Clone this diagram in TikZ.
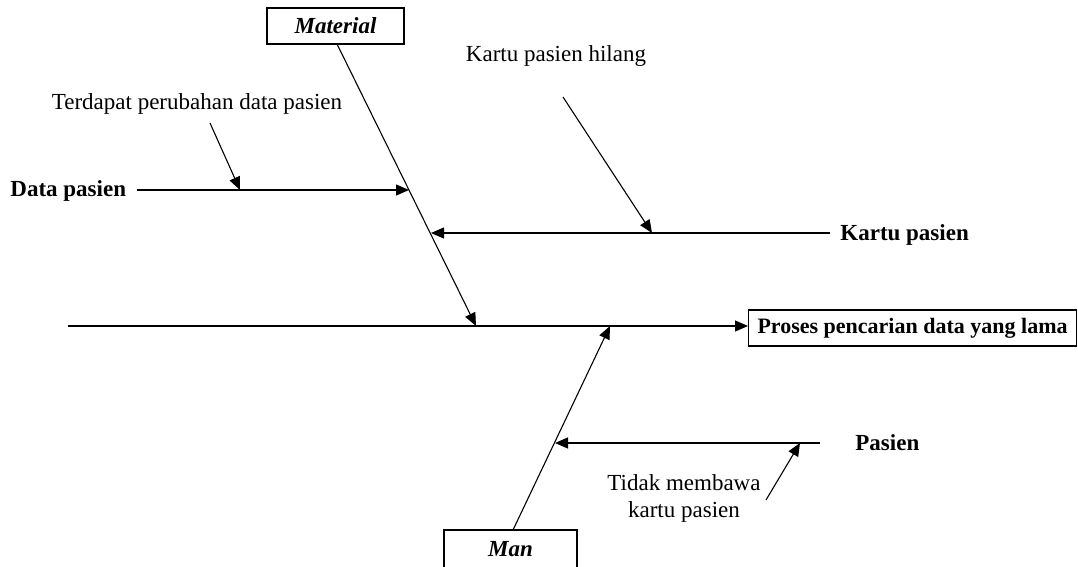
\documentclass[tikz,border=0pt]{standalone}
\usepackage{fontspec}
\setmainfont{Liberation Serif}
\usetikzlibrary{arrows.meta}
\begin{document}
\begin{tikzpicture}[x=0.5pt,y=-0.5pt,
  every node/.style={font=\fontsize{11.5pt}{13.5pt}\selectfont, inner sep=0pt},
  line/.style={line width=0.55pt, draw=black},
  arr/.style={line, -{Triangle[length=6.5pt,width=5.5pt]}},
  boxed/.style={draw, line width=0.55pt, minimum height=18pt},
  lbl/.style={font=\fontsize{11.5pt}{13.5pt}\selectfont\bfseries},
  cat/.style={font=\fontsize{11.5pt}{13.5pt}\selectfont\bfseries\itshape}]
\useasboundingbox (0,0) rectangle (1078,567);
\clip (0,0) rectangle (1078,567);
% effect
\node[boxed, font=\fontsize{11pt}{13.5pt}\selectfont\bfseries, inner xsep=4.5pt, anchor=west] (effect) at (748,328) {Proses pencarian data yang lama};
\coordinate (tail) at (68,326);
\draw[arr] (tail) -- (tail -| effect.west);
% category boxes
\node[cat, boxed, minimum width=68.5pt] (mat) at (335.5,26) {Material};
\node[cat] (man) at (510.5,549) {Man};
\draw[line width=0.55pt] (444,530) rectangle (577,600);
% bones
\coordinate (matTop) at (337,44);
\coordinate (matEnd) at (476,326);
\draw[arr] (matTop) -- (matEnd);
\coordinate (manBot) at (513,530);
\coordinate (manEnd) at (610,326);
\draw[arr] (manBot) -- (manEnd);
% Data pasien
\node[lbl, anchor=west] (dp) at (10,191) {Data pasien};
\coordinate (dpEnd) at (409,190);
\draw[arr] (137,190) -- (dpEnd);
\node (tp) at (197,104) {Terdapat perubahan data pasien};
\coordinate (tpS) at (210,123);
\coordinate (tpE) at (240,190);
\draw[arr] (tpS) -- (tpE);
% Kartu pasien
\node[lbl, anchor=west] (kp) at (840,235) {Kartu pasien};
\coordinate (kpS) at (830,233);
\coordinate (kpE) at (431,233);
\draw[arr] (kpS) -- (kpE);
\node (kph) at (556,56) {Kartu pasien hilang};
\coordinate (kphS) at (563,97);
\coordinate (kphE) at (652,233);
\draw[arr] (kphS) -- (kphE);
% Pasien
\node[lbl, anchor=west] (ps) at (855,443) {Pasien};
\coordinate (psS) at (820,443);
\coordinate (psE) at (555,443);
\draw[arr] (psS) -- (psE);
\node[align=center] (tm) at (684,498) {Tidak membawa\\kartu pasien};
\coordinate (tmS) at (766,500);
\coordinate (tmE) at (800,443);
\draw[arr] (tmS) -- (tmE);
\end{tikzpicture}
\end{document}
